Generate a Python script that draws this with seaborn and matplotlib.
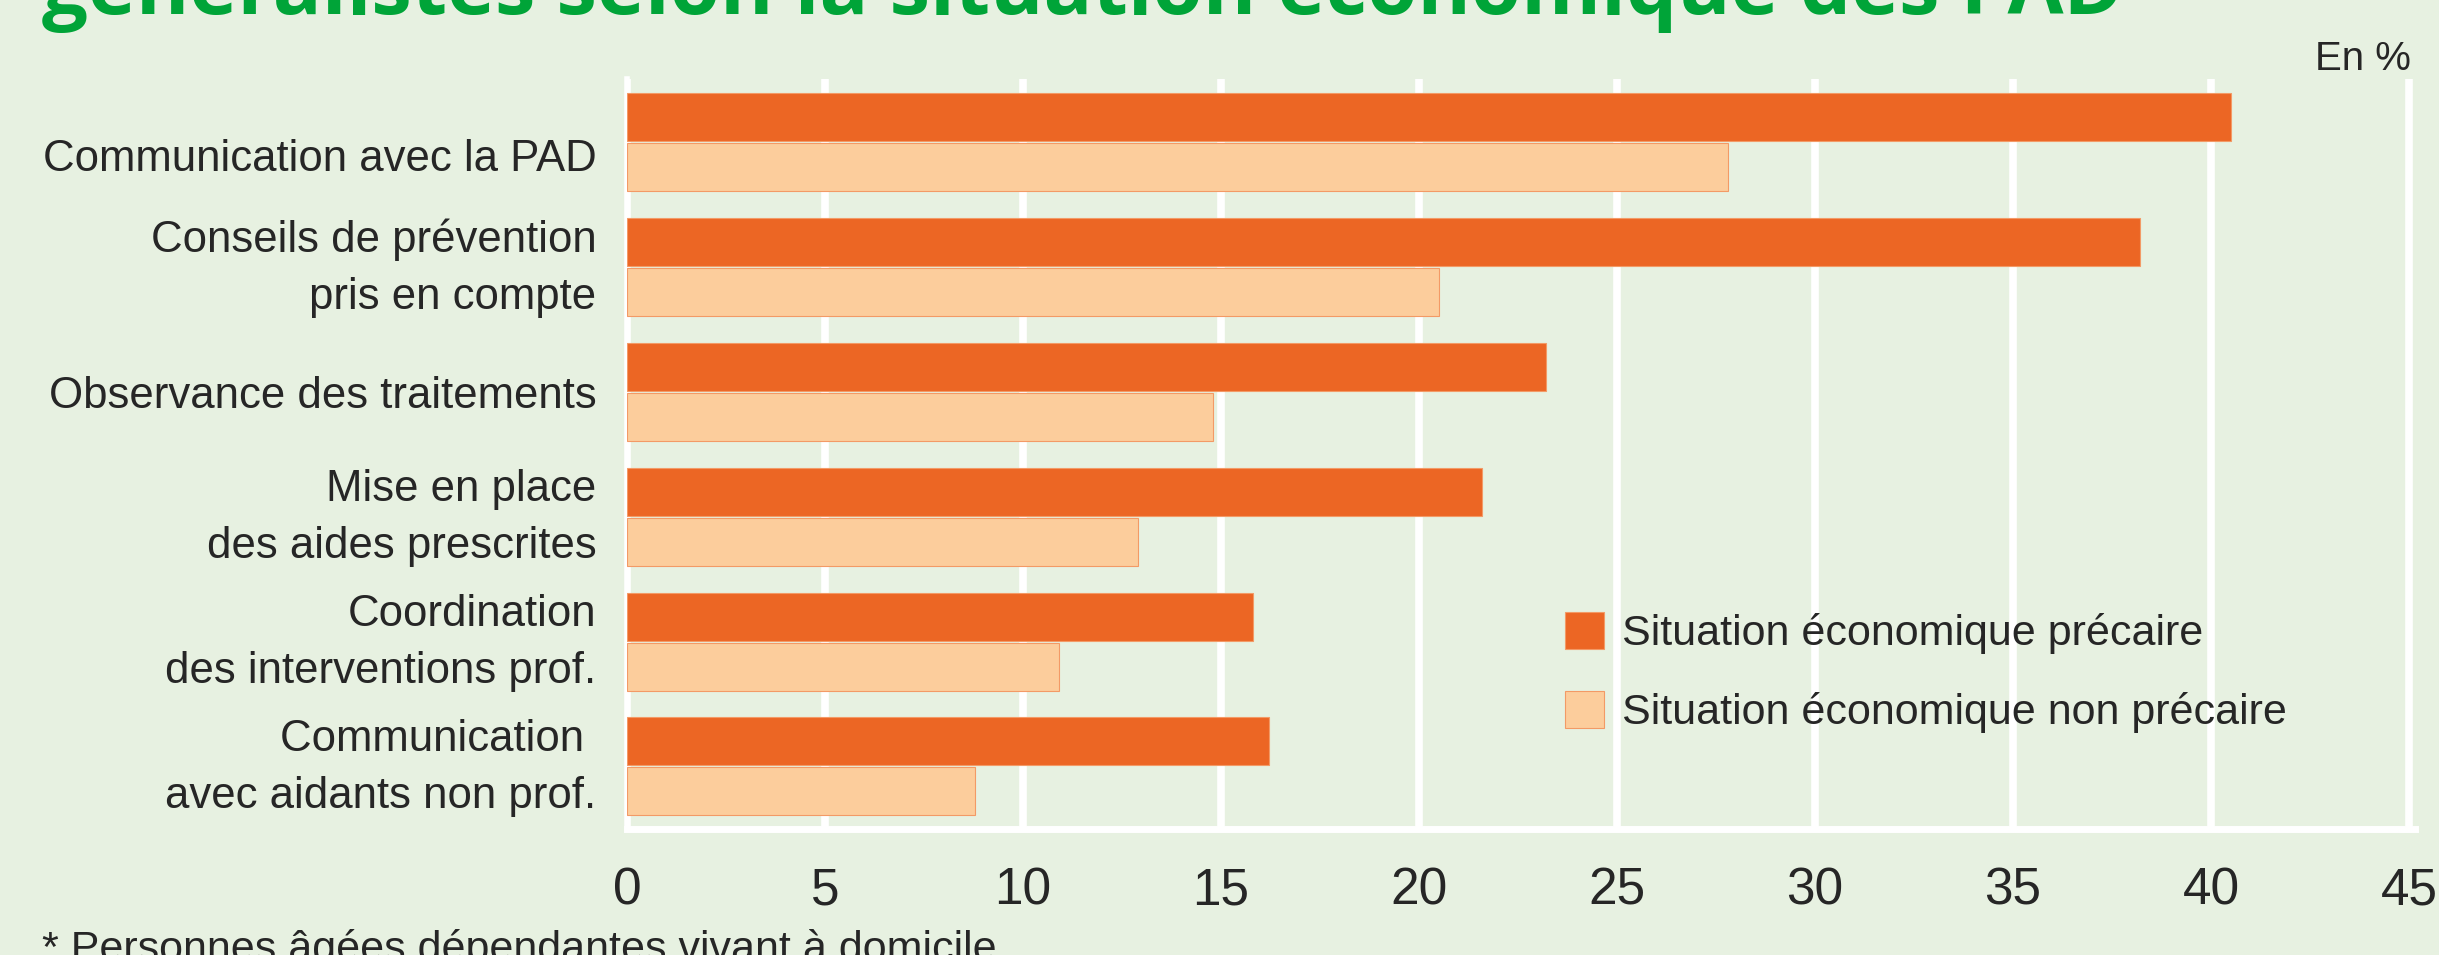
import pandas as pd
import matplotlib
matplotlib.use("Agg")
import matplotlib.pyplot as plt
import matplotlib.patches as mpatches
import matplotlib.transforms as mtransforms
import seaborn as sns

# Données (en %)
categories = ["Communication avec la PAD",
              "Conseils de prévention\npris en compte",
              "Observance des traitements",
              "Mise en place\ndes aides prescrites",
              "Coordination\ndes interventions prof.",
              "Communication \navec aidants non prof."]
precaire = [40.5, 38.2, 23.2, 21.6, 15.8, 16.2]
non_precaire = [27.8, 20.5, 14.8, 12.9, 10.9, 8.8]
series = ["Situation économique précaire", "Situation économique non précaire"]
x_ticks = [0, 5, 10, 15, 20, 25, 30, 35, 40, 45]

titre = "généralistes selon la situation économique des PAD"
note = "* Personnes âgées dépendantes vivant à domicile"

# Tableau long pour seaborn
df = pd.DataFrame({
    "categorie": categories * 2,
    "valeur": precaire + non_precaire,
    "situation": [series[0]] * len(categories) + [series[1]] * len(categories),
})

fond = "#E7F1E1"
couleurs = {series[0]: "#EC6624", series[1]: "#FCCD9C"}
bord = "#F39A66"

sns.set_theme(style="white", rc={"axes.facecolor": fond, "figure.facecolor": fond})
plt.rcParams['font.family'] = ['Liberation Sans', 'DejaVu Sans']

fig = plt.figure(figsize=(24.39, 9.55), dpi=100)
ax = fig.add_axes([627 / 2439, 0.132, (2415 - 627) / 2439, 0.785])

sns.barplot(data=df, y="categorie", x="valeur", hue="situation", palette=couleurs,
            saturation=1, orient="h", width=0.8, gap=0.04, legend=False, ax=ax,
            edgecolor=bord, linewidth=0.8, zorder=3)

ax.set_xlim(0, 45.15)
ax.set_ylim(5.5, -0.5)
ax.set_xticks(x_ticks)
ax.set_xticklabels([str(t) for t in x_ticks], fontsize=37)
ax.set_xlabel("")
ax.set_ylabel("")
ax.tick_params(axis="x", length=0, pad=27)
ax.tick_params(axis="y", which="major", length=0, pad=22, labelsize=31.5)

# interligne plus large et petits décalages comme sur l'original
for i, lab in enumerate(ax.get_yticklabels()):
    lab.set_linespacing(1.5)
    if "\n" in lab.get_text():
        dy = 11
    elif i == 0:
        dy = -13
    else:
        dy = 0
    lab.set_transform(lab.get_transform() + mtransforms.Affine2D().translate(0, dy))

# petits traits blancs entre les groupes
ax.set_yticks([i - 0.5 for i in range(len(categories) + 1)], minor=True)
ax.tick_params(axis="y", which="minor", direction="in", length=31, width=5, color="white")

ax.grid(axis="x", color="white", linewidth=5.5, zorder=0)
ax.set_axisbelow(True)
for s in ["top", "right"]:
    ax.spines[s].set_visible(False)
ax.spines["left"].set_color("white")
ax.spines["left"].set_linewidth(4)
ax.spines["bottom"].set_color("white")
ax.spines["bottom"].set_linewidth(5)
ax.spines["bottom"].set_zorder(4)

# légende
handles = [mpatches.Patch(facecolor=couleurs[s], edgecolor=bord, linewidth=0.8, label=s) for s in series]
fig.legend(handles=handles, loc="upper left", bbox_to_anchor=(1565 / 2439, 1 - 612 / 955),
           frameon=False, prop={"size": 31},
           handlelength=0.9, handleheight=0.95, handletextpad=0.42,
           labelspacing=0.84, borderpad=0, borderaxespad=0)

fig.text(42 / 2439, 1 - 14 / 955, titre, color="#00A438", fontweight="bold",
         fontsize=58.5, family=['Open Sans', 'DejaVu Sans'], va="baseline")
fig.text(2411 / 2439, 1 - 70 / 955, "En %", fontsize=29, ha="right", va="baseline")
fig.text(42 / 2439, -6 / 955, note, fontsize=31, va="baseline")

fig.savefig("out.png", dpi=100, facecolor=fond)
